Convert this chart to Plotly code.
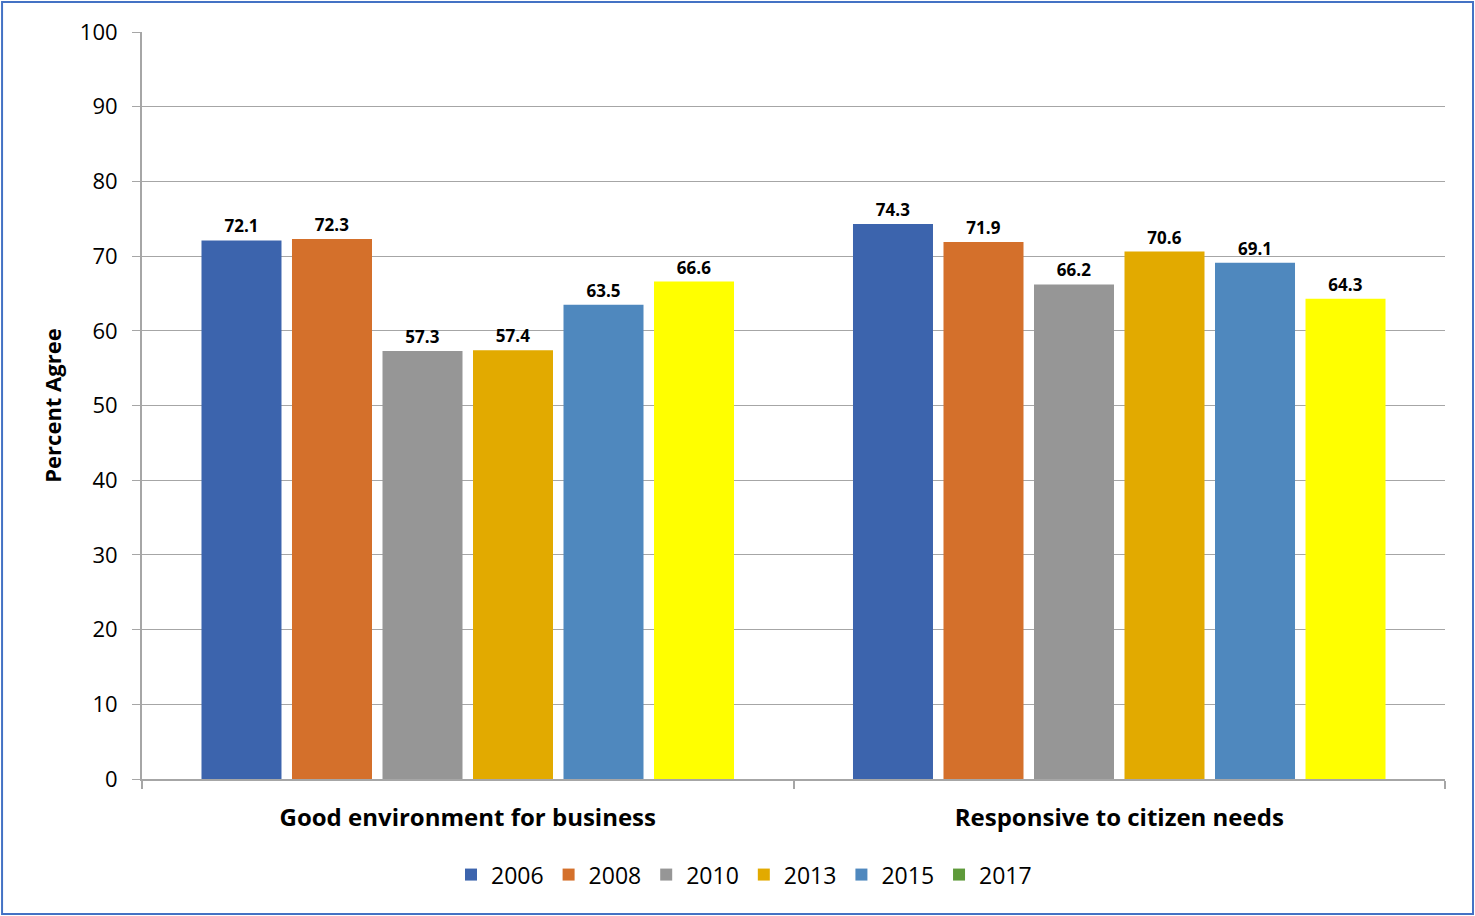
import plotly.graph_objects as go

categories = ["Good environment for business", "Responsive to citizen needs"]
years = ["2006", "2008", "2010", "2013", "2015", "2017"]
v2006 = [72.1, 74.3]
v2008 = [72.3, 71.9]
v2010 = [57.3, 66.2]
v2013 = [57.4, 70.6]
v2015 = [63.5, 69.1]
v2017 = [66.6, 64.3]
series = [v2006, v2008, v2010, v2013, v2015, v2017]
bar_colors = ["#3C64AD", "#D4702B", "#969696", "#E2AA00", "#4F88BE", "#FFFF00"]
legend_colors = ["#3C64AD", "#D4702B", "#969696", "#E2AA00", "#4F88BE", "#5E9A3A"]
yticks = [0, 10, 20, 30, 40, 50, 60, 70, 80, 90, 100]

FONT = "Open Sans"
fig = go.Figure()
for yr, vals, bc, lc in zip(years, series, bar_colors, legend_colors):
    same = bc == lc
    fig.add_trace(go.Bar(
        name=yr, x=categories, y=vals, marker=dict(color=bc, line=dict(width=0)),
        text=[f"{v:.1f}" for v in vals], textposition="outside",
        textfont=dict(family=FONT, size=17, color="#000000", weight="bold"),
        cliponaxis=False, showlegend=same,
    ))
    if not same:
        # legend entry only (the reference legend shows a different swatch colour)
        fig.add_trace(go.Scatter(name=yr, x=[None], y=[None], mode="markers",
                                 marker=dict(symbol="square", color=lc, size=12),
                                 showlegend=True))

fig.update_layout(
    width=1475, height=916,
    paper_bgcolor="white", plot_bgcolor="white",
    margin=dict(l=142, r=30, t=32, b=137),
    barmode="group", bargap=0.1665, bargroupgap=0.116,
    font=dict(family=FONT, color="#000000"),
    legend=dict(orientation="h", x=0.462, xanchor="center", y=-0.128, yanchor="middle",
                font=dict(family=FONT, size=23), itemwidth=30, tracegroupgap=0,
                traceorder="normal", itemsizing="constant"),
    xaxis=dict(showline=True, linecolor="#A6A6A6", linewidth=2, ticks="outside",
               tickson="boundaries", ticklen=8, tickcolor="#A6A6A6", tickwidth=2,
               ticklabelstandoff=16,
               tickfont=dict(family=FONT, size=24, color="#000000", weight="bold")),
    yaxis=dict(range=[0, 100], tickvals=yticks, showgrid=True, gridcolor="#A6A6A6", gridwidth=1,
               showline=True, linecolor="#A6A6A6", linewidth=2, ticks="outside", ticklen=8,
               tickcolor="#A6A6A6", tickfont=dict(family=FONT, size=22, color="#000000"),
               ticklabelstandoff=10, zeroline=False,
               title=dict(text="Percent Agree", font=dict(family=FONT, size=22, weight="bold"), standoff=12)),
    shapes=[dict(type="rect", xref="paper", yref="paper",
                 x0=-0.1074, x1=1.0215, y0=-0.1807, y1=1.0402,
                 line=dict(color="#4472C4", width=2))],
)
fig.write_html("out.html")
